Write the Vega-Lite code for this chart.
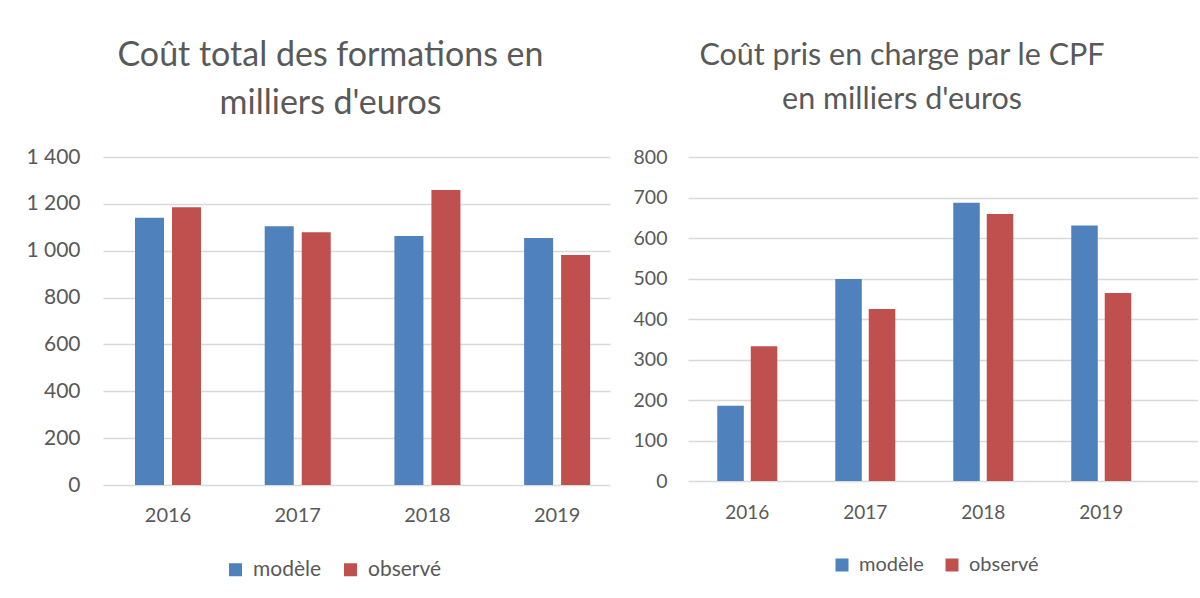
{
  "$schema": "https://vega.github.io/schema/vega-lite/v6.json",
  "background": "white",
  "padding": {"left": 25, "top": 39, "right": 0, "bottom": 4},
  "datasets": {
    "d": [
      {"chart": "total", "year": "2016", "series": "modèle", "value": 1141},
      {"chart": "total", "year": "2016", "series": "observé", "value": 1185},
      {"chart": "total", "year": "2017", "series": "modèle", "value": 1104},
      {"chart": "total", "year": "2017", "series": "observé", "value": 1079},
      {"chart": "total", "year": "2018", "series": "modèle", "value": 1063},
      {"chart": "total", "year": "2018", "series": "observé", "value": 1259},
      {"chart": "total", "year": "2019", "series": "modèle", "value": 1054},
      {"chart": "total", "year": "2019", "series": "observé", "value": 982},
      {"chart": "cpf", "year": "2016", "series": "modèle", "value": 186},
      {"chart": "cpf", "year": "2016", "series": "observé", "value": 333},
      {"chart": "cpf", "year": "2017", "series": "modèle", "value": 499},
      {"chart": "cpf", "year": "2017", "series": "observé", "value": 425},
      {"chart": "cpf", "year": "2018", "series": "modèle", "value": 687},
      {"chart": "cpf", "year": "2018", "series": "observé", "value": 659},
      {"chart": "cpf", "year": "2019", "series": "modèle", "value": 631},
      {"chart": "cpf", "year": "2019", "series": "observé", "value": 464}
    ]
  },
  "data": {"name": "d"},
  "spacing": 78,
  "bounds": "flush",
  "resolve": {
    "scale": {"x": "independent", "y": "independent", "xOffset": "independent", "color": "independent"},
    "legend": {"color": "independent"}
  },
  "hconcat": [
    {
      "width": 507,
      "height": 328,
      "title": {
        "text": ["Coût total des formations en", "milliers d'euros"],
        "fontSize": 34,
        "lineHeight": 48,
        "dx": -26,
        "offset": 25,
        "anchor": "middle",
        "frame": "group"
      },
      "transform": [{"filter": "datum.chart == 'total'"}],
      "mark": {"type": "bar"},
      "encoding": {
        "x": {
          "field": "year", "type": "nominal",
          "scale": {"paddingInner": 0.491, "paddingOuter": 0.2, "align": 0.617},
          "axis": {"title": null, "labelAngle": 0, "domain": false, "ticks": false, "labelPadding": 20, "labelFontSize": 20, "grid": false}
        },
        "xOffset": {
          "field": "series", "type": "nominal",
          "sort": ["modèle", "observé"],
          "scale": {"paddingInner": 0.216, "paddingOuter": 0}
        },
        "y": {
          "field": "value", "type": "quantitative",
          "scale": {"domain": [0, 1400], "nice": false},
          "axis": {
            "title": null,
            "values": [0, 200, 400, 600, 800, 1000, 1200, 1400],
            "labelExpr": "replace(format(datum.value, ','), ',', ' ')",
            "domain": false, "ticks": false, "labelPadding": 23, "labelFontSize": 21,
            "gridColor": "#d9d9d9", "gridWidth": 1.5
          }
        },
        "color": {
          "field": "series", "type": "nominal",
          "scale": {"domain": ["modèle", "observé"], "range": ["#4f81bd", "#c0504d"]},
          "legend": {"title": null, "orient": "none", "legendX": 122, "legendY": 402, "direction": "horizontal", "labelFontSize": 21, "columnPadding": 18}
        }
      }
    },
    {
      "width": 510,
      "height": 324,
      "title": {
        "text": ["Coût pris en charge par le CPF", "en milliers d'euros"],
        "fontSize": 30.5,
        "lineHeight": 44,
        "dx": -41,
        "offset": 32,
        "anchor": "middle",
        "frame": "group"
      },
      "transform": [{"filter": "datum.chart == 'cpf'"}],
      "mark": {"type": "bar"},
      "encoding": {
        "x": {
          "field": "year", "type": "nominal",
          "scale": {"paddingInner": 0.4915, "paddingOuter": 0.407, "align": 0.305},
          "axis": {"title": null, "labelAngle": 0, "domain": false, "ticks": false, "labelPadding": 22, "labelFontSize": 19, "grid": false}
        },
        "xOffset": {
          "field": "series", "type": "nominal",
          "sort": ["modèle", "observé"],
          "scale": {"paddingInner": 0.208, "paddingOuter": 0}
        },
        "y": {
          "field": "value", "type": "quantitative",
          "scale": {"domain": [0, 800], "nice": false},
          "axis": {
            "title": null,
            "values": [0, 100, 200, 300, 400, 500, 600, 700, 800],
            "domain": false, "ticks": false, "labelPadding": 21, "labelFontSize": 19.5,
            "gridColor": "#d9d9d9", "gridWidth": 1.5
          }
        },
        "color": {
          "field": "series", "type": "nominal",
          "scale": {"domain": ["modèle", "observé"], "range": ["#4f81bd", "#c0504d"]},
          "legend": {"title": null, "orient": "none", "legendX": 144, "legendY": 398, "direction": "horizontal", "labelFontSize": 20, "columnPadding": 18}
        }
      }
    }
  ],
  "config": {
    "font": "Lato",
    "view": {"stroke": null},
    "title": {"font": "Lato", "color": "#595959", "fontWeight": "normal"},
    "axis": {"labelFont": "Lato", "labelColor": "#595959"},
    "legend": {
      "labelFont": "Lato", "labelColor": "#595959",
      "symbolType": "square", "symbolSize": 169, "symbolStrokeWidth": 0,
      "labelOffset": 7, "columnPadding": 22, "padding": 0
    }
  }
}
